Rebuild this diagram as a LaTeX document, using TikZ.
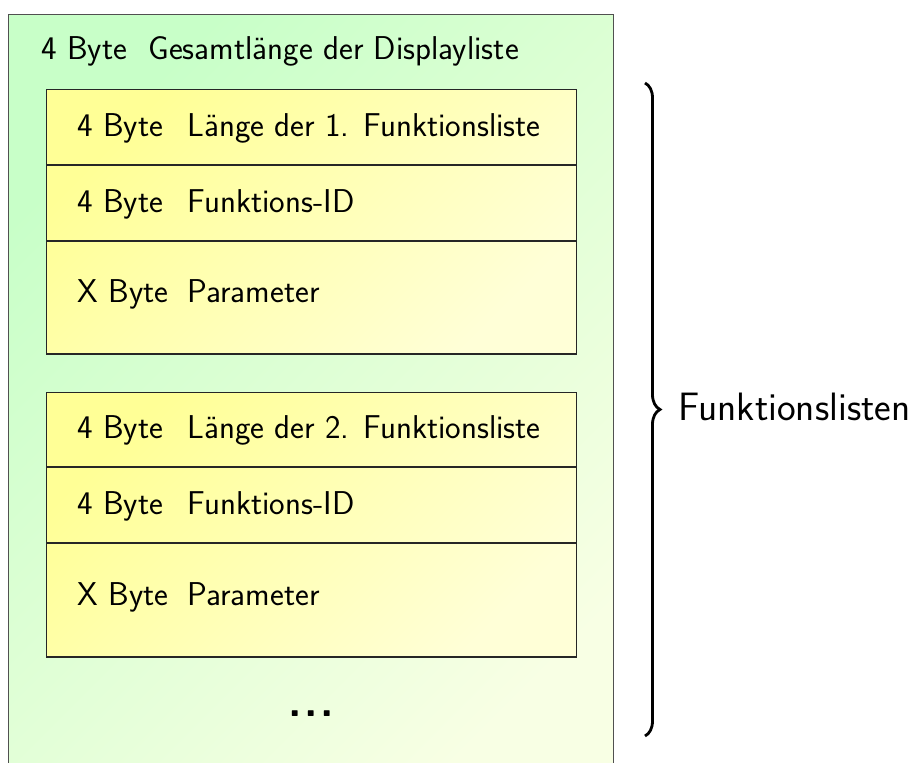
\documentclass[tikz,border=0pt]{standalone}
\usepackage{fontspec}
\usetikzlibrary{decorations.pathreplacing}
\definecolor{outerA}{RGB}{200,255,200}
\definecolor{outerB}{RGB}{248,255,228}
\definecolor{innerA}{RGB}{255,255,150}
\definecolor{innerB}{RGB}{255,255,215}
\definecolor{outerline}{RGB}{80,80,80}
\begin{document}
\begin{tikzpicture}[x=0.5pt,y=-0.5pt,
  txt/.style={font=\fontsize{16.5}{19}\selectfont\sffamily, anchor=base west, inner sep=0pt},
  outerbox/.style={draw=outerline, line width=0.6pt, top color=outerA, bottom color=outerB, shading angle=45, anchor=north west, inner sep=0pt, minimum width=302.5pt, minimum height=400pt},
  innerbox/.style={draw=black!85, line width=0.6pt, top color=innerA, bottom color=innerB, shading angle=45, anchor=north west, inner sep=0pt, minimum width=265pt, minimum height=132.2pt},
  sep/.style={draw=black!85, line width=0.6pt}]
\useasboundingbox (0,0) rectangle (910,763);
\begin{scope}
\clip (0,0) rectangle (910,763);
\node[outerbox] (outer) at (8,14) {};
\end{scope}
\node[txt] (t0a) at (41,60) {4 Byte};
\node[txt] (t0b) at (148,60) {Gesamtlänge der Displayliste};
% first function list
\node[innerbox] (f1) at (46,89) {};
\coordinate (f1l1) at (46,165); \coordinate (f1r1) at (576,165);
\coordinate (f1l2) at (46,241); \coordinate (f1r2) at (576,241);
\draw[sep] (f1l1) -- (f1r1);
\draw[sep] (f1l2) -- (f1r2);
\node[txt] (a1) at (77,137) {4 Byte};
\node[txt] (b1) at (187,137) {Länge der 1. Funktionsliste};
\node[txt] (a2) at (77,213) {4 Byte};
\node[txt] (b2) at (187,213) {Funktions-ID};
\node[txt] (a3) at (77,303) {X Byte};
\node[txt] (b3) at (187,303) {Parameter};
% second function list
\node[innerbox] (f2) at (46,392) {};
\coordinate (f2l1) at (46,467); \coordinate (f2r1) at (576,467);
\coordinate (f2l2) at (46,543); \coordinate (f2r2) at (576,543);
\draw[sep] (f2l1) -- (f2r1);
\draw[sep] (f2l2) -- (f2r2);
\node[txt] (c1) at (77,439) {4 Byte};
\node[txt] (d1) at (187,439) {Länge der 2. Funktionsliste};
\node[txt] (c2) at (77,515) {4 Byte};
\node[txt] (d2) at (187,515) {Funktions-ID};
\node[txt] (c3) at (77,606) {X Byte};
\node[txt] (d3) at (187,606) {Parameter};
% dots
\node[font=\fontsize{22}{26}\selectfont\sffamily\bfseries, inner sep=0pt, anchor=base] (dots) at (311.5,717) {.\kern1.2pt.\kern1.2pt.};
% brace
\coordinate (btop) at (645,83);
\coordinate (bbot) at (645,736);
\draw[line width=1.4pt, decorate, decoration={brace, amplitude=7.5pt}] (btop) -- (bbot);
\node[font=\fontsize{19.8}{23}\selectfont\sffamily, anchor=base west, inner sep=0pt] (lbl) at (678,421) {Funktionslisten};
\end{tikzpicture}
\end{document}
